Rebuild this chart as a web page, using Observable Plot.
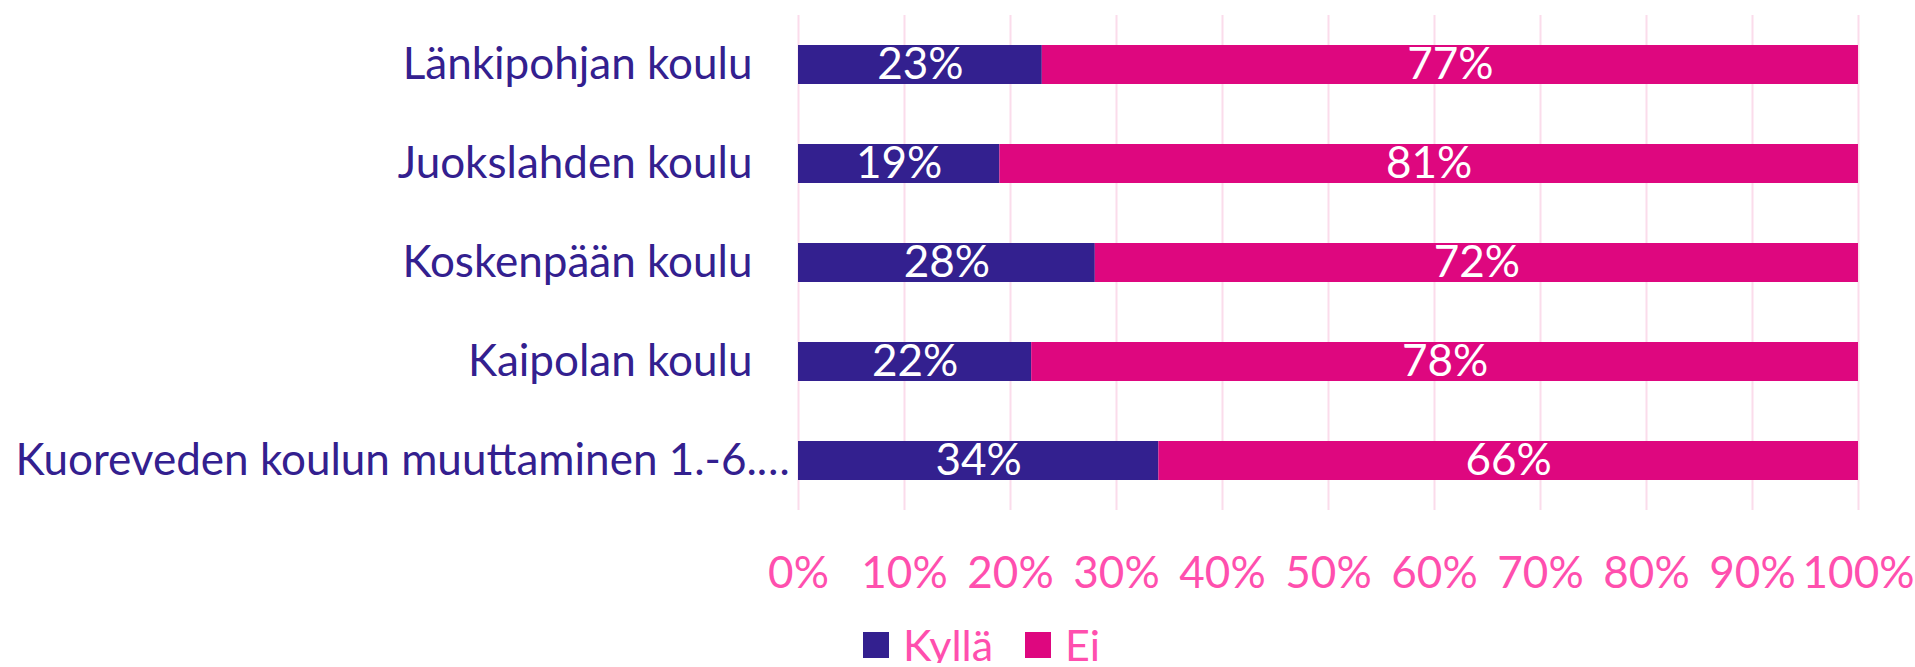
<!DOCTYPE html>
<html>
<head>
<meta charset="utf-8">
<script src="https://cdn.jsdelivr.net/npm/d3@7"></script>
<script src="https://cdn.jsdelivr.net/npm/@observablehq/plot@0.6"></script>
<style>
  html, body { margin: 0; padding: 0; background: #fff; overflow: hidden; }
  #chart svg { display: block; }
  #legend { height: 36px; padding-top: 27px; padding-left: 863px; display: flex; align-items: center;
            font-family: Lato, sans-serif; font-size: 43px; line-height: 36px; color: #FF4FAE; }
  #legend .sw { display: inline-block; width: 26px; height: 26px; margin-right: 14px; }
  #legend .item { display: flex; align-items: center; margin-right: 32px; }
</style>
</head>
<body>
<div id="chart"></div>
<div id="legend"></div>
<script>
const schools = [
  "Länkipohjan koulu",
  "Juokslahden koulu",
  "Koskenpään koulu",
  "Kaipolan koulu",
  "Kuoreveden koulun muuttaminen 1.-6.…"
];
const answers = ["Kyllä", "Ei"];
const kylla = [23, 19, 28, 22, 34];
const ei = [77, 81, 72, 78, 66];
const xTicks = [0, 10, 20, 30, 40, 50, 60, 70, 80, 90, 100];
const colors = ["#33208F", "#DE077F"];

const rows = [];
schools.forEach((s, i) => {
  rows.push({school: s, answer: answers[0], value: kylla[i]});
  rows.push({school: s, answer: answers[1], value: ei[i]});
});

const chart = Plot.plot({
  width: 1915,
  height: 600,
  marginLeft: 798,
  marginRight: 57,
  marginTop: 15,
  marginBottom: 90,
  style: {fontFamily: "Lato, sans-serif", fontSize: "44px", background: "white"},
  x: {domain: [0, 100]},
  y: {domain: schools, paddingInner: 0.61, paddingOuter: 0.305},
  color: {domain: answers, range: colors},
  marks: [
    Plot.gridX(xTicks, {stroke: "#FBDCEB", strokeOpacity: 1, strokeWidth: 2}),
    Plot.barX(rows, Plot.stackX({x: "value", y: "school", fill: "answer", z: "answer", order: answers})),
    Plot.text(rows, Plot.stackX({x: "value", y: "school", z: "answer", order: answers, text: d => d.value + "%", fill: "white", fontSize: 44})),
    Plot.axisX({ticks: xTicks, tickSize: 0, tickPadding: 46, tickFormat: d => d + "%", fill: "#FF4FAE", fontSize: 44, label: null}),
    Plot.axisY({ticks: schools.slice(0, 4), tickSize: 0, tickPadding: 46, fill: "#33208F", fontSize: 44, label: null}),
    Plot.axisY({ticks: schools.slice(4), tickSize: 0, tickPadding: 0, textAnchor: "start", dx: 15 - 798, fill: "#33208F", fontSize: 44, label: null})
  ]
});
document.getElementById("chart").appendChild(chart);

const legend = document.getElementById("legend");
answers.forEach((a, i) => {
  const item = document.createElement("span");
  item.className = "item";
  const sw = document.createElement("span");
  sw.className = "sw";
  sw.style.background = colors[i];
  const t = document.createElement("span");
  t.textContent = a;
  item.appendChild(sw);
  item.appendChild(t);
  legend.appendChild(item);
});
</script>
</body>
</html>
